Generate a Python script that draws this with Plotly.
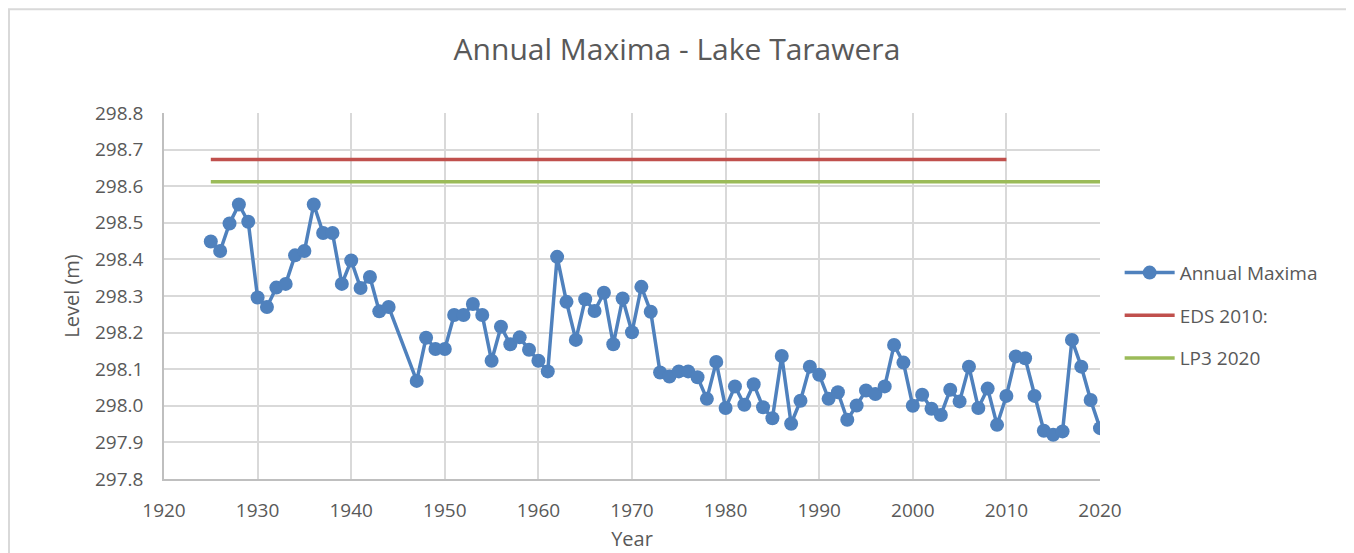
import plotly.graph_objects as go

# ---- data ----
years = [1925, 1926, 1927, 1928, 1929, 1930, 1931, 1932, 1933, 1934, 1935, 1936,
         1937, 1938, 1939, 1940, 1941, 1942, 1943, 1944, 1947, 1948, 1949, 1950,
         1951, 1952, 1953, 1954, 1955, 1956, 1957, 1958, 1959, 1960, 1961, 1962,
         1963, 1964, 1965, 1966, 1967, 1968, 1969, 1970, 1971, 1972, 1973, 1974,
         1975, 1976, 1977, 1978, 1979, 1980, 1981, 1982, 1983, 1984, 1985, 1986,
         1987, 1988, 1989, 1990, 1991, 1992, 1993, 1994, 1995, 1996, 1997, 1998,
         1999, 2000, 2001, 2002, 2003, 2004, 2005, 2006, 2007, 2008, 2009, 2010,
         2011, 2012, 2013, 2014, 2015, 2016, 2017, 2018, 2019, 2020]
annual_maxima = [298.449, 298.423, 298.498, 298.550, 298.503, 298.296, 298.270, 298.323,
                 298.333, 298.411, 298.423, 298.550, 298.472, 298.472, 298.333, 298.397,
                 298.322, 298.352, 298.258, 298.270, 298.068, 298.186, 298.155, 298.155,
                 298.248, 298.248, 298.278, 298.248, 298.123, 298.216, 298.168, 298.187,
                 298.153, 298.123, 298.094, 298.407, 298.284, 298.180, 298.291, 298.259,
                 298.309, 298.168, 298.293, 298.201, 298.325, 298.257, 298.091, 298.080,
                 298.094, 298.094, 298.078, 298.019, 298.120, 297.994, 298.053, 298.003,
                 298.059, 297.996, 297.966, 298.136, 297.951, 298.014, 298.107, 298.085,
                 298.019, 298.037, 297.962, 298.001, 298.042, 298.032, 298.053, 298.166,
                 298.118, 298.000, 298.030, 297.992, 297.975, 298.044, 298.012, 298.107,
                 297.994, 298.047, 297.948, 298.027, 298.135, 298.130, 298.027, 297.932,
                 297.921, 297.930, 298.180, 298.107, 298.016, 297.939]

eds_years = [1925, 2010]
eds_level = [298.673, 298.673]
lp3_years = [1925, 2020]
lp3_level = [298.612, 298.612]

y_ticks = [297.8, 297.9, 298.0, 298.1, 298.2, 298.3, 298.4, 298.5, 298.6, 298.7, 298.8]
x_ticks = [1920, 1930, 1940, 1950, 1960, 1970, 1980, 1990, 2000, 2010, 2020]

FONT = "Open Sans"
TXT = "#595959"

fig = go.Figure()
fig.add_trace(go.Scatter(
    x=years, y=annual_maxima, name="Annual Maxima", mode="lines+markers",
    line=dict(color="#4f81bd", width=3.5),
    marker=dict(color="#4f81bd", size=14),
    legendgroup="a"))
fig.add_trace(go.Scatter(
    x=eds_years, y=eds_level, name="EDS 2010:", mode="lines",
    line=dict(color="#c0504d", width=3.5), legendgroup="b"))
fig.add_trace(go.Scatter(
    x=lp3_years, y=lp3_level, name="LP3 2020", mode="lines",
    line=dict(color="#9bbb59", width=3.5), legendgroup="c"))

fig.update_layout(
    width=1346, height=545,
    margin=dict(l=156, r=254, t=105, b=74, autoexpand=False),
    paper_bgcolor="white", plot_bgcolor="white",
    font=dict(family=FONT, color=TXT, size=19),
    title=dict(text="Annual Maxima - Lake Tarawera", x=0.497, xanchor="center",
               y=0.923, yanchor="middle", font=dict(size=30, color=TXT, family=FONT)),
    showlegend=True,
    legend=dict(x=1.021, xanchor="left", y=0.446, yanchor="middle",
                font=dict(size=19, color=TXT), tracegroupgap=15, itemwidth=50,
                bgcolor="rgba(0,0,0,0)"),
    xaxis=dict(range=[1920, 2020], tickvals=x_ticks, showgrid=True, automargin=False,
               gridcolor="#d9d9d9", gridwidth=1.5, showline=True, linecolor="#bfbfbf",
               linewidth=1.5, ticks="", zeroline=False, ticklabelstandoff=13,
               tickfont=dict(size=19, color=TXT),
               title=dict(text="Year", font=dict(size=20, color=TXT), standoff=10)),
    yaxis=dict(range=[297.8, 298.8], tickvals=y_ticks, tickformat=".1f", showgrid=True,
               automargin=False,
               gridcolor="#d9d9d9", gridwidth=1.5, showline=True, linecolor="#bfbfbf",
               linewidth=1.5, ticks="", zeroline=False, ticklabelstandoff=15,
               tickfont=dict(size=19, color=TXT),
               title=dict(text="Level (m)", font=dict(size=20, color=TXT), standoff=10)),
)

# light outer chart border (chart frame, not data)
fig.add_shape(type="rect", xref="paper", yref="paper",
              x0=-0.1656, x1=1.2639, y0=-0.25, y1=1.2834,
              line=dict(color="#d9d9d9", width=2), layer="below")

fig.write_html("out.html")
